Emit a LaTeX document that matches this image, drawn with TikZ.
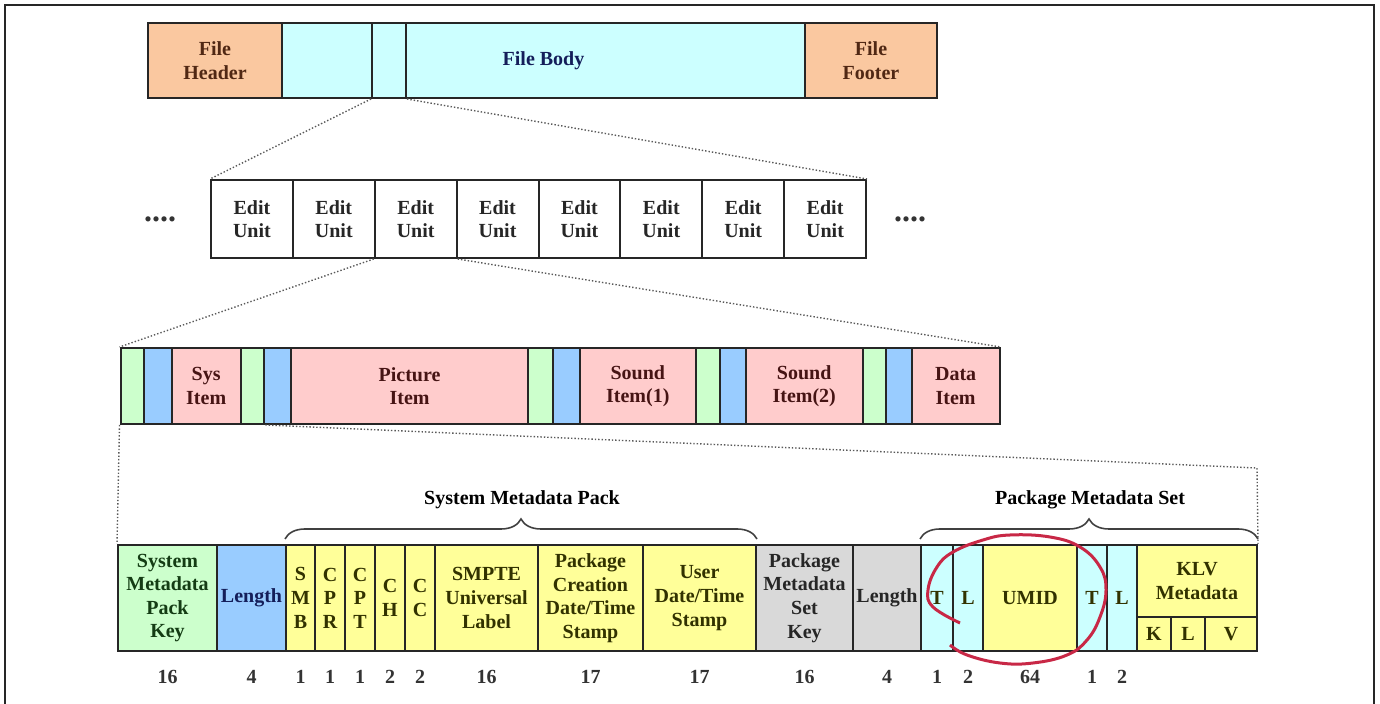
\documentclass[tikz,border=0pt]{standalone}
\usepackage{fontspec}
\setmainfont{Liberation Serif}
\usepackage{xcolor}
\usepackage{tikz}
\usetikzlibrary{positioning,decorations.pathreplacing}
\definecolor{fileorange}{RGB}{250,200,160}
\definecolor{filecyan}{RGB}{204,255,255}
\definecolor{keygreen}{RGB}{204,255,204}
\definecolor{lenblue}{RGB}{153,204,255}
\definecolor{itempink}{RGB}{255,204,204}
\definecolor{metayellow}{RGB}{255,255,153}
\definecolor{setgray}{RGB}{217,217,217}
\definecolor{ringred}{RGB}{200,40,70}
\definecolor{txtbrown}{RGB}{80,40,20}
\definecolor{txtnavy}{RGB}{20,30,90}
\definecolor{txtgreen}{RGB}{20,60,20}
\definecolor{txtolive}{RGB}{50,50,0}
\definecolor{txtmaroon}{RGB}{70,20,20}
% field box from left/right/top/bottom pixel edges
\newcommand{\fieldbox}[7]{%
  \node[#1, minimum width={(#4-#3)*0.5pt}, minimum height={(#6-#5)*0.5pt}]
    (#2) at ({(#3+#4)/2},{(#5+#6)/2}) {#7};}

\begin{document}
\begin{tikzpicture}[
  x=0.5pt, y=-0.5pt,
  font=\bfseries\fontsize{10}{11.8}\selectfont,
  cell/.style={draw=black!85, line width=1pt, inner sep=0pt, align=center},
  hdrcell/.style={cell, fill=fileorange, text=txtbrown},
  bodycell/.style={cell, fill=filecyan, text=txtnavy},
  eucell/.style={cell, fill=white, text=black!85},
  keycell/.style={cell, fill=keygreen, text=txtgreen},
  lencell/.style={cell, fill=lenblue, text=txtnavy},
  itemcell/.style={cell, fill=itempink, text=txtmaroon},
  metacell/.style={cell, fill=metayellow, text=txtolive},
  setcell/.style={cell, fill=setgray, text=black!85},
  tlcell/.style={cell, fill=filecyan, text=txtolive},
  num/.style={inner sep=0pt, text=black!80},
  dots/.style={inner sep=0pt, font=\bfseries\fontsize{16}{16}\selectfont, text=black!80},
  zoomline/.style={densely dotted, gray!70!black, line width=0.7pt},
  brc/.style={decorate, decoration={brace, amplitude=10pt}, line width=0.8pt, black!75},
  ring/.style={draw=ringred, line width=1.5pt}
]
\useasboundingbox (0,0) rectangle (1380,704);
% frame
\draw[gray!30!black, line width=1pt] (5,710) -- (5,5) -- (1374,5) -- (1374,710);

% File layer
\fieldbox{hdrcell}{fhead}{148}{282}{23}{98}{File\\Header}
\fieldbox{bodycell}{fbody}{282}{805}{23}{98}{File Body}
\fieldbox{hdrcell}{ffoot}{805}{937}{23}{98}{File\\Footer}
\fieldbox{cell}{slice}{372}{406}{23}{98}{}

% Edit units
\node[dots] (ldots) at (160,219) {....};
\foreach \i in {1,...,8}{
  \pgfmathsetmacro{\xa}{211+(\i-1)*81.875}
  \pgfmathsetmacro{\xb}{\xa+81.875}
  \fieldbox{eucell}{eu\i}{\xa}{\xb}{180}{258}{Edit\\Unit}
}
\node[dots] (rdots) at (910,219) {....};

% Content package items
\fieldbox{keycell}{k1}{120.5}{144}{348}{424}{}
\fieldbox{lencell}{l1}{144}{171.6}{348}{424}{}
\fieldbox{itemcell}{sys}{171.6}{240.8}{348}{424}{Sys\\Item}
\fieldbox{keycell}{k2}{240.8}{264.3}{348}{424}{}
\fieldbox{lencell}{l2}{264.3}{290.7}{348}{424}{}
\fieldbox{itemcell}{pic}{290.7}{528.4}{348}{424}{Picture\\Item}
\fieldbox{keycell}{k3}{528.4}{553}{348}{424}{}
\fieldbox{lencell}{l3}{553}{580}{348}{424}{}
\fieldbox{itemcell}{snd1}{580}{695.6}{348}{424}{Sound\\Item(1)}
\fieldbox{keycell}{k4}{695.6}{720.3}{348}{424}{}
\fieldbox{lencell}{l4}{720.3}{745.5}{348}{424}{}
\fieldbox{itemcell}{snd2}{745.5}{862.9}{348}{424}{Sound\\Item(2)}
\fieldbox{keycell}{k5}{862.9}{886.4}{348}{424}{}
\fieldbox{lencell}{l5}{886.4}{911.6}{348}{424}{}
\fieldbox{itemcell}{dat}{911.6}{999.6}{348}{424}{Data\\Item}

% System item fields
\fieldbox{keycell}{smk}{118}{217}{545}{651}{System\\Metadata\\Pack\\Key}
\fieldbox{lencell}{sml}{217}{286}{545}{651}{Length}
\fieldbox{metacell}{smb}{286}{315}{545}{651}{S\\M\\B}
\fieldbox{metacell}{cpr}{315}{345}{545}{651}{C\\P\\R}
\fieldbox{metacell}{cpt}{345}{375}{545}{651}{C\\P\\T}
\fieldbox{metacell}{ch}{375}{405}{545}{651}{C\\H}
\fieldbox{metacell}{cc}{405}{435}{545}{651}{C\\C}
\fieldbox{metacell}{sul}{435}{538}{545}{651}{SMPTE\\Universal\\Label}
\fieldbox{metacell}{pcd}{538}{643}{545}{651}{Package\\Creation\\Date/Time\\Stamp}
\fieldbox{metacell}{uds}{643}{756}{545}{651}{User\\Date/Time\\Stamp}
\fieldbox{setcell}{psk}{756}{853}{545}{651}{Package\\Metadata\\Set\\Key}
\fieldbox{setcell}{psl}{853}{921}{545}{651}{Length}
\fieldbox{tlcell}{t1}{921}{953}{545}{651}{T}
\fieldbox{tlcell}{lb1}{953}{983}{545}{651}{L}
\fieldbox{metacell}{umid}{983}{1077}{545}{651}{UMID}
\fieldbox{tlcell}{t2}{1077}{1107}{545}{651}{T}
\fieldbox{tlcell}{lb2}{1107}{1137}{545}{651}{L}
\fieldbox{metacell}{klv}{1137}{1257}{545}{617}{KLV\\Metadata}
\fieldbox{metacell}{kk}{1137}{1171}{617}{651}{K}
\fieldbox{metacell}{kl}{1171}{1205}{617}{651}{L}
\fieldbox{metacell}{kv}{1205}{1257}{617}{651}{V}

% byte counts
\foreach \c/\n in {smk/16, sml/4, smb/1, cpr/1, cpt/1, ch/2, cc/2, sul/16, pcd/17, uds/17,
                   psk/16, psl/4, t1/1, lb1/2, umid/64, t2/1, lb2/2}
  \node[num, below=9pt of \c] (n-\c) {\n};

% braces
\node (smplab) at (522,500) {System Metadata Pack};
\node (pmslab) at (1090,500) {Package Metadata Set};
\draw[brc] ([yshift=2.5pt]smb.north west) -- ([yshift=2.5pt]uds.north east);
\draw[brc] ([yshift=2.5pt]t1.north west) -- ([yshift=2.5pt]klv.north east);

% zoom lines
\coordinate (bend) at (1257,468);
\draw[zoomline] (slice.south west) -- (eu1.north west);
\draw[zoomline] (slice.south east) -- (eu8.north east);
\draw[zoomline] (eu3.south west) -- (k1.north west);
\draw[zoomline] (eu3.south east) -- (dat.north east);
\draw[zoomline] (k1.south west) -- (smk.north west);
\draw[zoomline] (k2.south east) -- (bend) -- (klv.north east);

% UMID ring
\draw[ring] plot[smooth, tension=0.7] coordinates {(960,623) (933,607) (928,590) (937,567)
  (953,552) (983,540) (1010,535) (1050,537) (1080,547) (1100,567) (1106,590) (1100,617)
  (1087,640) (1067,655) (1033,663) (1000,663) (967,655) (950,645)};
\end{tikzpicture}
\end{document}
